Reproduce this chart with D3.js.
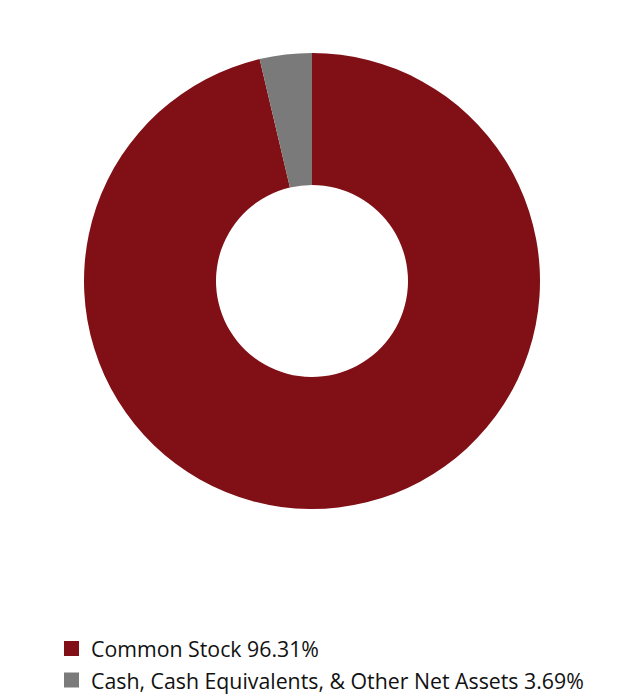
<!DOCTYPE html>
<html>
<head>
<meta charset="utf-8">
<script src="https://cdn.jsdelivr.net/npm/d3@7"></script>
<style>
  body { margin: 0; background: #fff; }
  svg { display: block; }
</style>
</head>
<body>
<svg width="624" height="696"></svg>
<script>
var labels = ["Common Stock", "Cash, Cash Equivalents, & Other Net Assets"];
var values = [96.31, 3.69];
var colors = ["#801016", "#7a7a7a"];

var svg = d3.select("svg");
var cx = 312, cy = 281, outerR = 228, innerR = 96;

var pie = d3.pie().sort(null).value(function(d) { return d; });
var arc = d3.arc().innerRadius(innerR).outerRadius(outerR);

svg.append("g")
  .attr("transform", "translate(" + cx + "," + cy + ")")
  .selectAll("path")
  .data(pie(values))
  .enter().append("path")
    .attr("d", arc)
    .attr("fill", function(d, i) { return colors[i]; });

var legend = svg.append("g").attr("transform", "translate(64,641)");
var item = legend.selectAll("g")
  .data(labels)
  .enter().append("g")
    .attr("transform", function(d, i) { return "translate(0," + (i * 31.5) + ")"; });

item.append("rect")
  .attr("width", 15)
  .attr("height", 15)
  .attr("fill", function(d, i) { return colors[i]; });

item.append("text")
  .attr("x", 27)
  .attr("y", 16)
  .attr("font-family", "'Open Sans', sans-serif")
  .attr("font-size", "21.3px")
  .attr("fill", "#111")
  .text(function(d, i) { return d + " " + values[i].toFixed(2) + "%"; });
</script>
</body>
</html>
